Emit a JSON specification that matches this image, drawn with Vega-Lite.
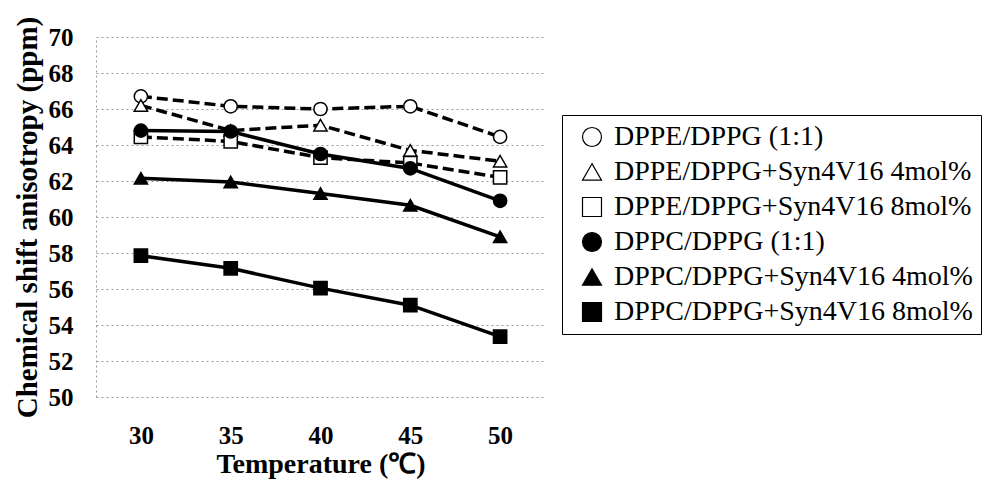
{
  "$schema": "https://vega.github.io/schema/vega-lite/v6.json",
  "autosize": {"type": "none"},
  "width": 449,
  "height": 360,
  "padding": {"left": 96, "top": 37, "right": 442, "bottom": 88},
  "background": "white",
  "data": {
    "values": [
      {"series": "DPPE/DPPG (1:1)", "T": "30", "v": 66.7},
      {"series": "DPPE/DPPG (1:1)", "T": "35", "v": 66.15},
      {"series": "DPPE/DPPG (1:1)", "T": "40", "v": 66.0},
      {"series": "DPPE/DPPG (1:1)", "T": "45", "v": 66.15},
      {"series": "DPPE/DPPG (1:1)", "T": "50", "v": 64.45},
      {"series": "DPPE/DPPG+Syn4V16 4mol%", "T": "30", "v": 66.2},
      {"series": "DPPE/DPPG+Syn4V16 4mol%", "T": "35", "v": 64.8},
      {"series": "DPPE/DPPG+Syn4V16 4mol%", "T": "40", "v": 65.1},
      {"series": "DPPE/DPPG+Syn4V16 4mol%", "T": "45", "v": 63.7},
      {"series": "DPPE/DPPG+Syn4V16 4mol%", "T": "50", "v": 63.1},
      {"series": "DPPE/DPPG+Syn4V16 8mol%", "T": "30", "v": 64.45},
      {"series": "DPPE/DPPG+Syn4V16 8mol%", "T": "35", "v": 64.2},
      {"series": "DPPE/DPPG+Syn4V16 8mol%", "T": "40", "v": 63.3},
      {"series": "DPPE/DPPG+Syn4V16 8mol%", "T": "45", "v": 63.0},
      {"series": "DPPE/DPPG+Syn4V16 8mol%", "T": "50", "v": 62.2},
      {"series": "DPPC/DPPG (1:1)", "T": "30", "v": 64.8},
      {"series": "DPPC/DPPG (1:1)", "T": "35", "v": 64.75},
      {"series": "DPPC/DPPG (1:1)", "T": "40", "v": 63.5},
      {"series": "DPPC/DPPG (1:1)", "T": "45", "v": 62.7},
      {"series": "DPPC/DPPG (1:1)", "T": "50", "v": 60.9},
      {"series": "DPPC/DPPG+Syn4V16 4mol%", "T": "30", "v": 62.15},
      {"series": "DPPC/DPPG+Syn4V16 4mol%", "T": "35", "v": 61.95},
      {"series": "DPPC/DPPG+Syn4V16 4mol%", "T": "40", "v": 61.3},
      {"series": "DPPC/DPPG+Syn4V16 4mol%", "T": "45", "v": 60.65},
      {"series": "DPPC/DPPG+Syn4V16 4mol%", "T": "50", "v": 58.9},
      {"series": "DPPC/DPPG+Syn4V16 8mol%", "T": "30", "v": 57.85},
      {"series": "DPPC/DPPG+Syn4V16 8mol%", "T": "35", "v": 57.15},
      {"series": "DPPC/DPPG+Syn4V16 8mol%", "T": "40", "v": 56.05},
      {"series": "DPPC/DPPG+Syn4V16 8mol%", "T": "45", "v": 55.1},
      {"series": "DPPC/DPPG+Syn4V16 8mol%", "T": "50", "v": 53.35}
    ]
  },
  "encoding": {
    "x": {
      "field": "T", "type": "ordinal",
      "scale": {"type": "point", "padding": 0.5},
      "axis": {
        "title": "Temperature (℃)",
        "labelAngle": 0,
        "domain": false, "ticks": false, "grid": false,
        "labelFont": "Liberation Serif", "labelFontWeight": "bold", "labelFontSize": 25, "labelColor": "black",
        "labelPadding": 26,
        "titleFont": "Liberation Serif", "titleFontWeight": "bold", "titleFontSize": 28, "titleColor": "black",
        "titlePadding": 2
      }
    },
    "y": {
      "field": "v", "type": "quantitative",
      "scale": {"domain": [50, 70], "nice": false, "zero": false},
      "axis": {
        "title": "Chemical shift anisotropy (ppm)",
        "values": [50, 52, 54, 56, 58, 60, 62, 64, 66, 68, 70],
        "ticks": false,
        "domain": true, "domainColor": "#999999", "domainDash": [2, 3], "domainWidth": 1,
        "grid": true, "gridColor": "#999999", "gridDash": [2, 3], "gridWidth": 1,
        "labelFont": "Liberation Serif", "labelFontWeight": "bold", "labelFontSize": 25, "labelColor": "black",
        "labelPadding": 23,
        "titleFont": "Liberation Serif", "titleFontWeight": "bold", "titleFontSize": 29, "titleColor": "black",
        "titlePadding": 6
      }
    }
  },
  "layer": [
    {
      "transform": [{"filter": {"field": "series", "oneOf": ["DPPE/DPPG (1:1)", "DPPE/DPPG+Syn4V16 4mol%", "DPPE/DPPG+Syn4V16 8mol%"]}}],
      "mark": {"type": "line", "color": "black", "strokeWidth": 3.5, "strokeDash": [11, 5]},
      "encoding": {"detail": {"field": "series"}}
    },
    {
      "transform": [{"filter": {"field": "series", "oneOf": ["DPPC/DPPG (1:1)", "DPPC/DPPG+Syn4V16 4mol%", "DPPC/DPPG+Syn4V16 8mol%"]}}],
      "mark": {"type": "line", "color": "black", "strokeWidth": 3.5},
      "encoding": {"detail": {"field": "series"}}
    },
    {
      "mark": {"type": "point", "filled": true, "opacity": 1, "stroke": "black", "strokeWidth": 1.5, "size": 175},
      "encoding": {
        "shape": {
          "field": "series", "type": "nominal",
          "scale": {
            "domain": ["DPPE/DPPG (1:1)", "DPPE/DPPG+Syn4V16 4mol%", "DPPE/DPPG+Syn4V16 8mol%", "DPPC/DPPG (1:1)", "DPPC/DPPG+Syn4V16 4mol%", "DPPC/DPPG+Syn4V16 8mol%"],
            "range": ["circle", "triangle-up", "square", "circle", "triangle-up", "square"]
          },
          "legend": {
            "title": null, "orient": "none", "legendX": 466, "legendY": 78,
            "padding": 8, "rowPadding": 7, "symbolOffset": 8,
            "strokeColor": "black", "fillColor": "white",
            "labelFont": "Times New Roman", "labelFontSize": 28, "labelFontWeight": "normal", "labelColor": "black",
            "labelLimit": 500, "labelOffset": 8,
            "symbolSize": 360, "symbolStrokeColor": "black", "symbolStrokeWidth": 1.2, "symbolOpacity": 1,
            "encode": {
              "symbols": {"update": {"stroke": {"value": "black"}, "strokeWidth": {"value": 1.2}}},
              "labels": {"update": {"font": {"value": "Times New Roman"}}}
            }
          }
        },
        "fill": {
          "field": "series", "type": "nominal",
          "scale": {
            "domain": ["DPPE/DPPG (1:1)", "DPPE/DPPG+Syn4V16 4mol%", "DPPE/DPPG+Syn4V16 8mol%", "DPPC/DPPG (1:1)", "DPPC/DPPG+Syn4V16 4mol%", "DPPC/DPPG+Syn4V16 8mol%"],
            "range": ["white", "white", "white", "black", "black", "black"]
          },
          "legend": {
            "title": null, "orient": "none", "legendX": 466, "legendY": 78,
            "padding": 8, "rowPadding": 7, "symbolOffset": 8,
            "strokeColor": "black", "fillColor": "white",
            "labelFont": "Times New Roman", "labelFontSize": 28, "labelFontWeight": "normal", "labelColor": "black",
            "labelLimit": 500, "labelOffset": 8,
            "symbolSize": 360, "symbolStrokeColor": "black", "symbolStrokeWidth": 1.2, "symbolOpacity": 1,
            "encode": {
              "symbols": {"update": {"stroke": {"value": "black"}, "strokeWidth": {"value": 1.2}}},
              "labels": {"update": {"font": {"value": "Times New Roman"}}}
            }
          }
        }
      }
    }
  ],
  "config": {
    "view": {"stroke": null},
    "legend": {
      "labelFont": "Times New Roman",
      "labelFontSize": 28,
      "symbolStrokeColor": "black",
      "symbolStrokeWidth": 1.2
    }
  }
}
